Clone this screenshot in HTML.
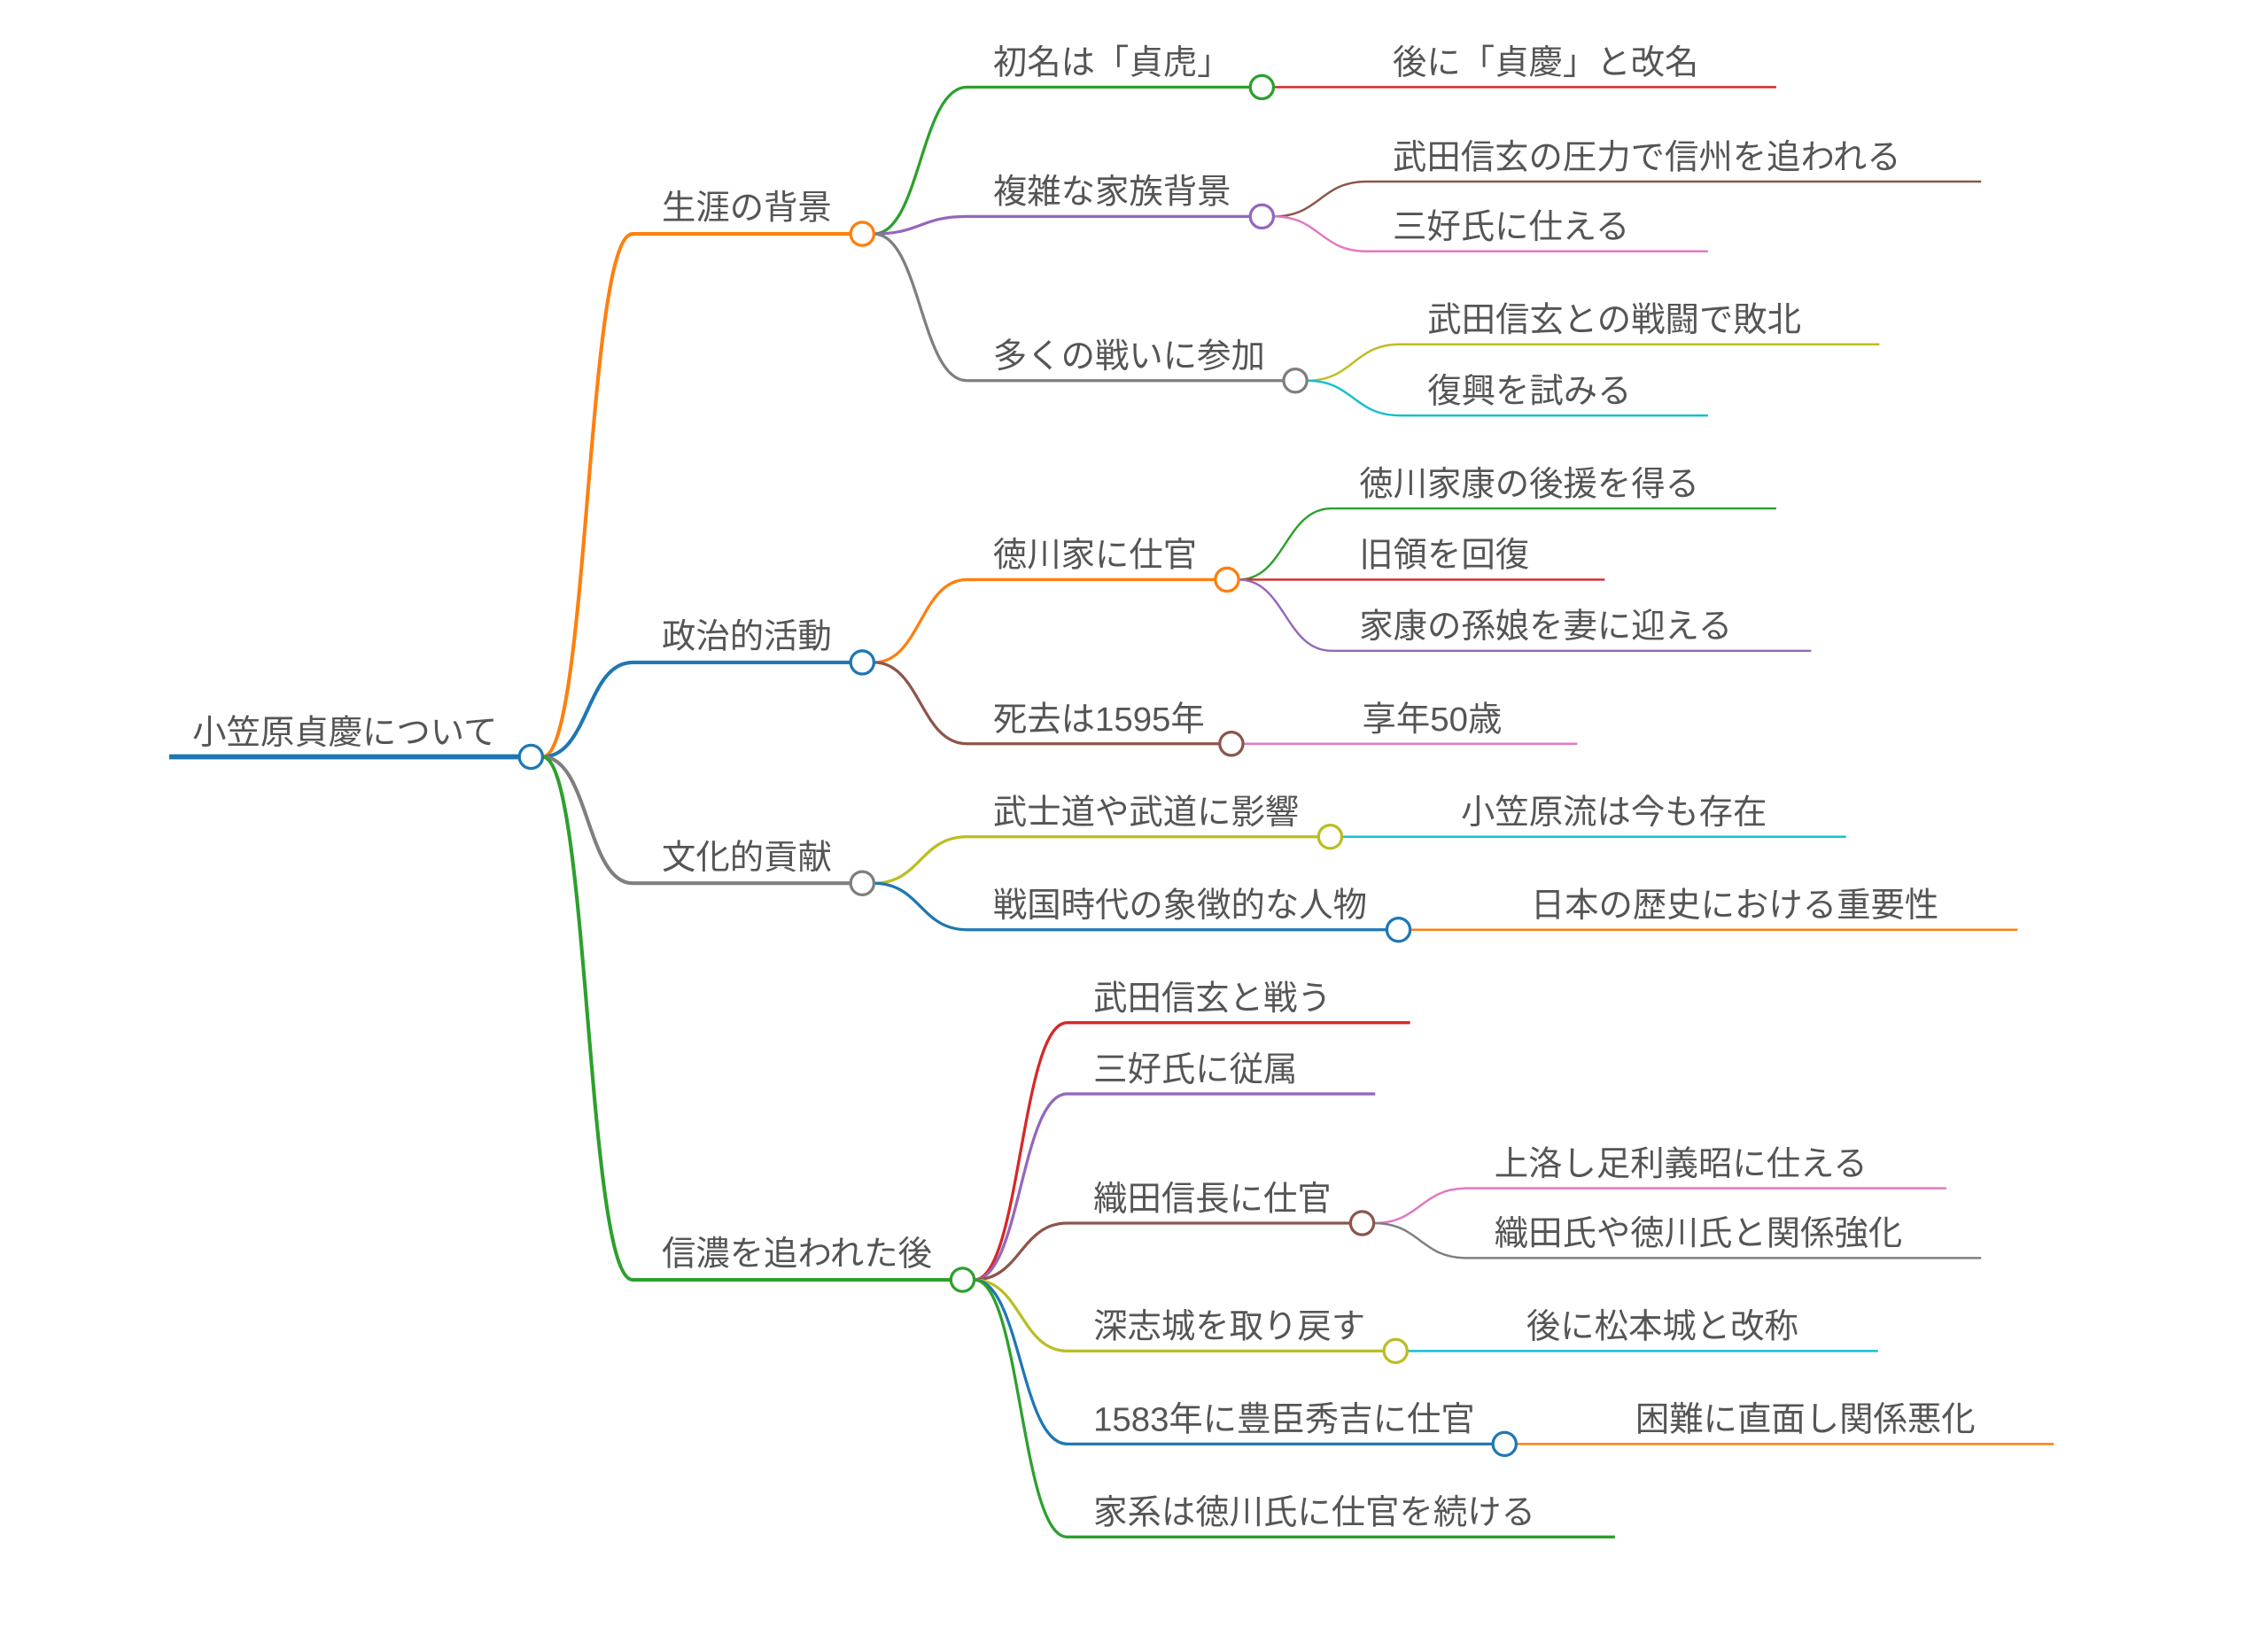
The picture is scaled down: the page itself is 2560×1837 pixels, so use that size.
<!DOCTYPE html>
<html><head><meta charset="utf-8"><style>
html,body{margin:0;padding:0;background:#fff;}
svg{display:block;}
text{font-family:"Liberation Sans","Noto Sans CJK JP",sans-serif;font-size:23.4px;fill:#555;}
path{fill:none;}
circle{fill:#fff;stroke-width:2;}
</style></head><body>
<svg width="2560" height="1837" viewBox="0 0 1560 1120" xmlns="http://www.w3.org/2000/svg">
<path d="M116 521 H357" stroke="#1f77b4" stroke-width="3.5"/>
<text x="132" y="512">小笠原貞慶について</text>
<path d="M373 521 C405 521 403 161 435 161 H585" stroke="#ff7f0e" stroke-width="2.5"/>
<path d="M373 521 C405 521 403 456 435 456 H585" stroke="#1f77b4" stroke-width="2.5"/>
<path d="M373 521 C405 521 403 608 435 608 H585" stroke="#7f7f7f" stroke-width="2.5"/>
<path d="M373 521 C405 521 403 881 435 881 H654" stroke="#2ca02c" stroke-width="2.5"/>
<text x="455" y="151">生涯の背景</text>
<text x="455" y="446">政治的活動</text>
<text x="455" y="598">文化的貢献</text>
<text x="455" y="871">信濃を追われた後</text>

<path d="M601 161 C633 161 633 60 665 60 H860" stroke="#2ca02c" stroke-width="2"/>
<path d="M601 161 C633 161 633 149 665 149 H860" stroke="#9467bd" stroke-width="2"/>
<path d="M601 161 C633 161 633 262 665 262 H883" stroke="#7f7f7f" stroke-width="2"/>
<text x="683" y="51">初名は「貞虎」</text>
<text x="683" y="140">複雑な家族背景</text>
<text x="683" y="253">多くの戦いに参加</text>
<path d="M876 60 H1222" stroke="#d62728" stroke-width="1.5"/>
<text x="958" y="51">後に「貞慶」と改名</text>
<path d="M876 149 C908 149 908 125 940 125 H1363" stroke="#8c564b" stroke-width="1.5"/>
<path d="M876 149 C908 149 908 173 940 173 H1175" stroke="#e377c2" stroke-width="1.5"/>
<text x="958" y="116">武田信玄の圧力で信州を追われる</text>
<text x="958" y="164">三好氏に仕える</text>
<path d="M899 262 C931 262 931 237 963 237 H1293" stroke="#bcbd22" stroke-width="1.5"/>
<path d="M899 262 C931 262 931 286 963 286 H1175" stroke="#17becf" stroke-width="1.5"/>
<text x="982" y="228">武田信玄との戦闘で敗北</text>
<text x="982" y="277">復興を試みる</text>

<path d="M601 456 C633 456 633 399 665 399 H836" stroke="#ff7f0e" stroke-width="2"/>
<path d="M601 456 C633 456 633 512 665 512 H839" stroke="#8c564b" stroke-width="2"/>
<text x="683" y="390">徳川家に仕官</text>
<text x="683" y="503">死去は1595年</text>
<path d="M852 399 C884 399 884 350 916 350 H1222" stroke="#2ca02c" stroke-width="1.5"/>
<path d="M852 399 H1104" stroke="#d62728" stroke-width="1.5"/>
<path d="M852 399 C884 399 884 448 916 448 H1246" stroke="#9467bd" stroke-width="1.5"/>
<text x="935" y="341">徳川家康の後援を得る</text>
<text x="935" y="390">旧領を回復</text>
<text x="935" y="439">家康の孫娘を妻に迎える</text>
<path d="M855 512 H1085" stroke="#e377c2" stroke-width="1.5"/>
<text x="937" y="503">享年50歳</text>

<path d="M601 608 C633 608 633 576 665 576 H907" stroke="#bcbd22" stroke-width="2"/>
<path d="M601 608 C633 608 633 640 665 640 H954" stroke="#1f77b4" stroke-width="2"/>
<text x="683" y="567">武士道や武道に影響</text>
<text x="683" y="631">戦国時代の象徴的な人物</text>
<path d="M923 576 H1270" stroke="#17becf" stroke-width="1.5"/>
<text x="1005" y="567">小笠原流は今も存在</text>
<path d="M970 640 H1388" stroke="#ff7f0e" stroke-width="1.5"/>
<text x="1053" y="631">日本の歴史における重要性</text>

<path d="M670 881 C702 881 702 704 734 704 H970" stroke="#d62728" stroke-width="2"/>
<path d="M670 881 C702 881 702 753 734 753 H946" stroke="#9467bd" stroke-width="2"/>
<path d="M670 881 C702 881 702 842 734 842 H929" stroke="#8c564b" stroke-width="2"/>
<path d="M670 881 C702 881 702 930 734 930 H952" stroke="#bcbd22" stroke-width="2"/>
<path d="M670 881 C702 881 702 994 734 994 H1027" stroke="#1f77b4" stroke-width="2"/>
<path d="M670 881 C702 881 702 1058 734 1058 H1111" stroke="#2ca02c" stroke-width="2"/>
<text x="752" y="695">武田信玄と戦う</text>
<text x="752" y="744">三好氏に従属</text>
<text x="752" y="833">織田信長に仕官</text>
<text x="752" y="921">深志城を取り戻す</text>
<text x="752" y="985">1583年に豊臣秀吉に仕官</text>
<text x="752" y="1049">家系は徳川氏に仕官を続ける</text>
<path d="M945 842 C977 842 977 818 1009 818 H1339" stroke="#e377c2" stroke-width="1.5"/>
<path d="M945 842 C977 842 977 866 1009 866 H1363" stroke="#7f7f7f" stroke-width="1.5"/>
<text x="1028" y="809">上洛し足利義昭に仕える</text>
<text x="1028" y="857">織田氏や徳川氏と関係強化</text>
<path d="M968 930 H1292" stroke="#17becf" stroke-width="1.5"/>
<text x="1050" y="921">後に松本城と改称</text>
<path d="M1043 994 H1413" stroke="#ff7f0e" stroke-width="1.5"/>
<text x="1125" y="985">困難に直面し関係悪化</text>

<circle cx="365" cy="521" r="8" stroke="#1f77b4"/>
<circle cx="593" cy="161" r="8" stroke="#ff7f0e"/>
<circle cx="593" cy="456" r="8" stroke="#1f77b4"/>
<circle cx="593" cy="608" r="8" stroke="#7f7f7f"/>
<circle cx="662" cy="881" r="8" stroke="#2ca02c"/>
<circle cx="868" cy="60" r="8" stroke="#2ca02c"/>
<circle cx="868" cy="149" r="8" stroke="#9467bd"/>
<circle cx="891" cy="262" r="8" stroke="#7f7f7f"/>
<circle cx="844" cy="399" r="8" stroke="#ff7f0e"/>
<circle cx="847" cy="512" r="8" stroke="#8c564b"/>
<circle cx="915" cy="576" r="8" stroke="#bcbd22"/>
<circle cx="962" cy="640" r="8" stroke="#1f77b4"/>
<circle cx="937" cy="842" r="8" stroke="#8c564b"/>
<circle cx="960" cy="930" r="8" stroke="#bcbd22"/>
<circle cx="1035" cy="994" r="8" stroke="#1f77b4"/>
</svg>
</body></html>
